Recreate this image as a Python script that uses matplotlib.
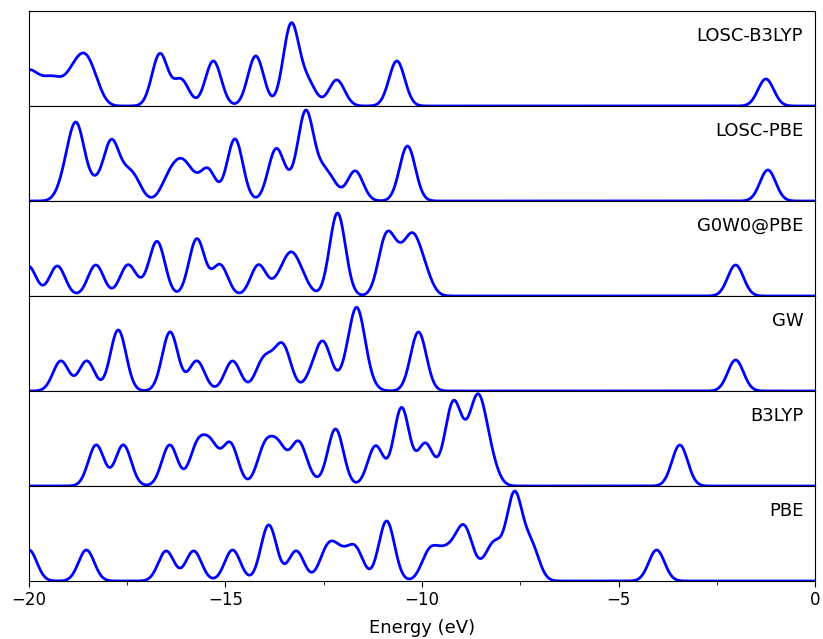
import numpy as np
import matplotlib
matplotlib.use("Agg")
import matplotlib.pyplot as plt
from matplotlib.ticker import MultipleLocator

# ---- data: level energies (eV) and peak weights (arb. units) per method ----
methods = ["LOSC-B3LYP", "LOSC-PBE", "G0W0@PBE", "GW", "B3LYP", "PBE"]

losc_b3lyp_E = [-20.05, -19.72, -19.40, -19.12, -18.85, -18.58, -18.33, -16.67, -16.13,
                -15.31, -14.23, -13.33, -12.90, -12.17, -10.64, -1.25]
losc_b3lyp_A = [30, 18, 20, 12, 25, 34, 18, 52, 26, 45, 50, 81, 22, 26, 45, 27]

losc_pbe_E = [-19.05, -18.78, -18.35, -17.91, -17.55, -17.32, -16.45, -16.15, -15.88,
              -15.45, -14.76, -13.72, -13.38, -12.96, -12.55, -12.30, -11.70, -10.37, -1.20]
losc_pbe_A = [22, 68, 14, 57, 16, 18, 20, 29, 18, 31, 62, 50, 10, 87, 22, 14, 30, 55, 31]

g0w0_E = [-20.02, -19.28, -18.30, -17.49, -17.15, -16.74, -15.73, -15.14, -14.16, -13.62,
          -13.33, -13.05, -12.15, -10.92, -10.60, -10.25, -9.95, -2.02]
g0w0_A = [30, 30, 31, 30, 5, 54, 57, 31, 31, 14, 34, 14, 83, 55, 28, 50, 22, 31]

gw_E = [-19.19, -18.53, -17.73, -16.41, -15.73, -14.82, -14.05, -13.78, -13.52, -12.78,
        -12.50, -11.95, -11.66, -11.40, -10.09, -2.02]
gw_A = [30, 30, 61, 59, 30, 30, 27, 14, 40, 14, 44, 12, 76, 8, 59, 31]

b3lyp_E = [-18.29, -17.60, -16.42, -15.72, -15.37, -14.88, -14.00, -13.65, -13.15, -12.85,
           -12.20, -11.18, -10.52, -9.92, -9.55, -9.22, -8.92, -8.58, -8.28, -3.44]
b3lyp_A = [41, 41, 41, 38, 37, 42, 37, 36, 42, 5, 57, 40, 78, 41, 6, 75, 24, 78, 25, 41]

pbe_E = [-20.00, -18.54, -16.51, -15.81, -14.82, -13.90, -13.20, -12.42, -12.15, -11.90,
         -11.68, -10.90, -9.82, -9.50, -9.20, -8.90, -8.45, -8.15, -7.65, -7.22, -4.03]
pbe_A = [31, 31, 30, 30, 31, 56, 30, 28, 20, 10, 28, 60, 27, 20, 22, 47, 9, 34, 85, 34, 31]

levels = [(losc_b3lyp_E, losc_b3lyp_A), (losc_pbe_E, losc_pbe_A), (g0w0_E, g0w0_A),
          (gw_E, gw_A), (b3lyp_E, b3lyp_A), (pbe_E, pbe_A)]

sigma = 0.20  # Gaussian broadening (eV)
energy = np.linspace(-20, 0, 2001)


def dos(E, A):
    E = np.asarray(E)[:, None]
    A = np.asarray(A)[:, None]
    return (A * np.exp(-(energy[None, :] - E) ** 2 / (2 * sigma ** 2))).sum(axis=0)


fig, axes = plt.subplots(6, 1, sharex=True, figsize=(8.23, 6.39), dpi=100)
fig.subplots_adjust(left=29 / 823, right=815 / 823, top=1 - 11 / 639,
                    bottom=1 - 581 / 639, hspace=0)

for ax, name, (E, A) in zip(axes, methods, levels):
    ax.plot(energy, dos(E, A), color="#0000ff", lw=2)
    ax.set_ylim(0, 95)
    ax.set_yticks([])
    ax.text(0.985, 0.83, name, transform=ax.transAxes, ha="right", va="top",
            fontsize=13)
    ax.tick_params(axis="x", which="both", bottom=False, labelbottom=False)

ax = axes[-1]
ax.set_xlim(-20, 0)
ax.xaxis.set_major_locator(MultipleLocator(5))
ax.xaxis.set_minor_locator(MultipleLocator(2.5))
ax.tick_params(axis="x", which="both", bottom=True, labelbottom=True)
ax.tick_params(axis="x", which="major", labelsize=12, length=4)
ax.tick_params(axis="x", which="minor", length=3)
ax.set_xlabel("Energy (eV)", fontsize=13, labelpad=7)

fig.savefig("out.png", dpi=100)
